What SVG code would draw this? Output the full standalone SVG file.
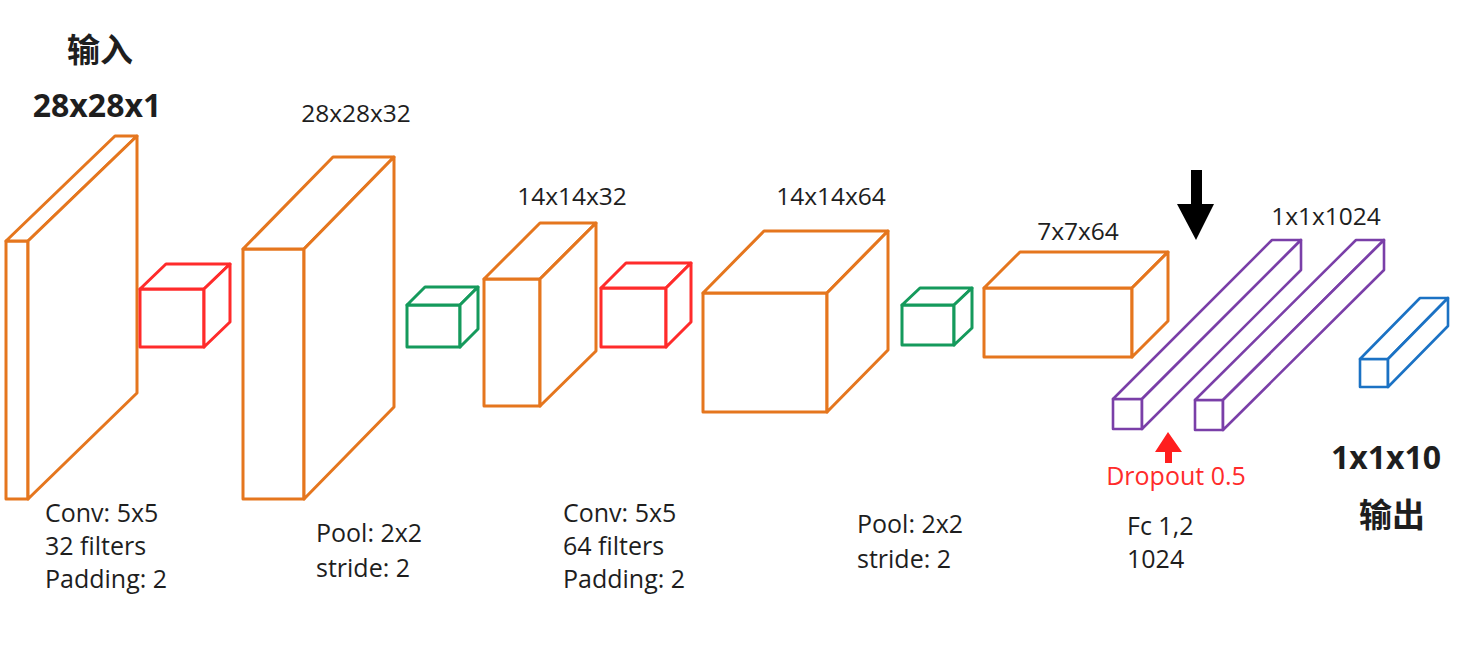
<svg xmlns="http://www.w3.org/2000/svg" width="1464" height="671" viewBox="0 0 1464 671">
  <style>
    .box { fill: #ffffff; stroke-width: 3; stroke-linejoin: round; }
    .orange { stroke: #E5761E; }
    .red { stroke: #FF2B2B; }
    .green { stroke: #159A5C; }
    .purple { stroke: #7A3FA8; stroke-width: 2.6; }
    .blue { stroke: #1B72C4; stroke-width: 2.6; }
    .lbl { font-family: "Open Sans", "Liberation Sans", sans-serif; fill: #1E1E1E; }
    .dim { font-size: 24.5px; }
    .op { font-size: 25px; }
    .big { font-size: 32px; font-weight: bold; }
    .cjk { font-family: "Noto Sans CJK SC", sans-serif; font-size: 33px; font-weight: bold; fill: #1E1E1E; }
  </style>

  <!-- input volume 28x28x1 -->
  <g id="input">
    <rect class="box orange" x="6" y="241" width="22" height="258"/>
    <polygon class="box orange" points="6,241 115,136 137,136 28,241"/>
    <polygon class="box orange" points="28,241 137,136 137,393 28,499"/>
    <text class="cjk" x="100" y="62" text-anchor="middle">输入</text>
    <text class="lbl big" x="97" y="117" text-anchor="middle">28x28x1</text>
  </g>

  <!-- conv kernel 1 -->
  <g id="conv1">
    <rect class="box red" x="140" y="289" width="64" height="58"/>
    <polygon class="box red" points="140,289 166,264 230,264 204,289"/>
    <polygon class="box red" points="204,289 230,264 230,322 204,347"/>
    <text class="lbl op" x="45" y="522">Conv: 5x5</text>
    <text class="lbl op" x="45" y="555">32 filters</text>
    <text class="lbl op" x="45" y="588">Padding: 2</text>
  </g>

  <!-- feature map 28x28x32 -->
  <g id="fmap1">
    <rect class="box orange" x="243" y="249" width="61" height="250"/>
    <polygon class="box orange" points="243,249 333,157 394,157 304,249"/>
    <polygon class="box orange" points="304,249 394,157 394,407 304,499"/>
    <text class="lbl dim" x="356" y="122" text-anchor="middle">28x28x32</text>
  </g>

  <!-- pooling 1 -->
  <g id="pool1">
    <rect class="box green" x="407" y="305" width="53" height="42"/>
    <polygon class="box green" points="407,305 425,287 478,287 460,305"/>
    <polygon class="box green" points="460,305 478,287 478,329 460,347"/>
    <text class="lbl op" x="316" y="542">Pool: 2x2</text>
    <text class="lbl op" x="316" y="577">stride: 2</text>
  </g>

  <!-- feature map 14x14x32 -->
  <g id="fmap2">
    <rect class="box orange" x="484" y="279" width="56" height="127"/>
    <polygon class="box orange" points="484,279 540,223 596,223 540,279"/>
    <polygon class="box orange" points="540,279 596,223 596,351 540,406"/>
    <text class="lbl dim" x="572" y="205" text-anchor="middle">14x14x32</text>
  </g>

  <!-- conv kernel 2 -->
  <g id="conv2">
    <rect class="box red" x="601" y="288" width="65" height="59"/>
    <polygon class="box red" points="601,288 626,263 691,263 666,288"/>
    <polygon class="box red" points="666,288 691,263 691,322 666,347"/>
    <text class="lbl op" x="563" y="522">Conv: 5x5</text>
    <text class="lbl op" x="563" y="555">64 filters</text>
    <text class="lbl op" x="563" y="588">Padding: 2</text>
  </g>

  <!-- feature map 14x14x64 -->
  <g id="fmap3">
    <rect class="box orange" x="703" y="293" width="124" height="119"/>
    <polygon class="box orange" points="703,293 764,231 888,231 827,293"/>
    <polygon class="box orange" points="827,293 888,231 888,350 827,412"/>
    <text class="lbl dim" x="831" y="205" text-anchor="middle">14x14x64</text>
  </g>

  <!-- pooling 2 -->
  <g id="pool2">
    <rect class="box green" x="902" y="305" width="52" height="40"/>
    <polygon class="box green" points="902,305 920,288 972,288 954,305"/>
    <polygon class="box green" points="954,305 972,288 972,328 954,345"/>
    <text class="lbl op" x="857" y="533">Pool: 2x2</text>
    <text class="lbl op" x="857" y="568">stride: 2</text>
  </g>

  <!-- feature map 7x7x64 -->
  <g id="fmap4">
    <rect class="box orange" x="984" y="288" width="148" height="69"/>
    <polygon class="box orange" points="984,288 1020,252 1168,252 1132,288"/>
    <polygon class="box orange" points="1132,288 1168,252 1168,321 1132,357"/>
    <text class="lbl dim" x="1078" y="240" text-anchor="middle">7x7x64</text>
  </g>

  <!-- fully connected layers 1x1x1024 -->
  <g id="fc1">
    <rect class="box purple" x="1113" y="399" width="29" height="30"/>
    <polygon class="box purple" points="1113,399 1272,240 1301,240 1142,399"/>
    <polygon class="box purple" points="1142,399 1301,240 1301,270 1142,429"/>
  </g>
  <g id="fc2">
    <rect class="box purple" x="1195" y="400" width="28" height="30"/>
    <polygon class="box purple" points="1195,400 1356,240 1384,240 1223,400"/>
    <polygon class="box purple" points="1223,400 1384,240 1384,270 1223,430"/>
    <text class="lbl dim" x="1326" y="225" text-anchor="middle">1x1x1024</text>
    <text class="lbl op" x="1127" y="535">Fc 1,2</text>
    <text class="lbl op" x="1127" y="568">1024</text>
  </g>

  <!-- output 1x1x10 -->
  <g id="output">
    <rect class="box blue" x="1360" y="359" width="28" height="28"/>
    <polygon class="box blue" points="1360,359 1420,298 1448,298 1388,359"/>
    <polygon class="box blue" points="1388,359 1448,298 1448,326 1388,387"/>
    <text class="lbl big" x="1386" y="469" text-anchor="middle">1x1x10</text>
    <text class="cjk" x="1392" y="527" text-anchor="middle">输出</text>
  </g>

  <!-- markers -->
  <g id="markers">
    <path d="M1191,170 H1202 V204 H1214 L1196,240 L1177,204 H1191 Z" fill="#000000"/>
    <path d="M1165,463 V452 H1155 L1168,432 L1182,452 H1172 V463 Z" fill="#FF1E1E"/>
    <text x="1176" y="485" text-anchor="middle" font-family="Open Sans, Liberation Sans, sans-serif" font-size="25" fill="#FF2B2B">Dropout 0.5</text>
  </g>
</svg>
